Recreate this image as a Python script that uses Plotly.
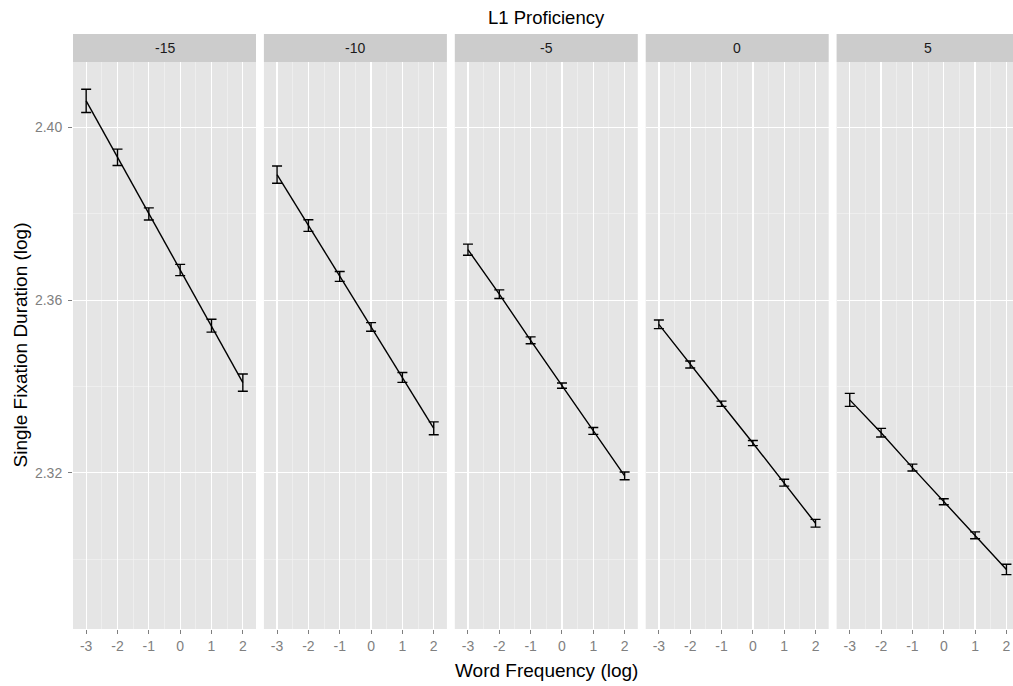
import plotly.graph_objects as go

# ---- data ----
freq = [-3, -2, -1, 0, 1, 2]
freq_ticks = [-3, -2, -1, 0, 1, 2]
freq_tick_labels = ["-3", "-2", "-1", "0", "1", "2"]
prof_levels = ["-15", "-10", "-5", "0", "5"]

sfd_m15 = [2.4062, 2.3931, 2.3800, 2.3670, 2.3541, 2.3409]
err_m15 = [0.0027, 0.0019, 0.0014, 0.0013, 0.0015, 0.0020]
sfd_m10 = [2.3891, 2.3773, 2.3655, 2.3538, 2.3421, 2.3303]
err_m10 = [0.0020, 0.00135, 0.00115, 0.0010, 0.00115, 0.0015]
sfd_m5 = [2.3717, 2.3614, 2.3507, 2.3402, 2.3297, 2.3193]
err_m5 = [0.0013, 0.0010, 0.0008, 0.0006, 0.0008, 0.0009]
sfd_0 = [2.3544, 2.3451, 2.3360, 2.3269, 2.3177, 2.3083]
err_0 = [0.0010, 0.0008, 0.0006, 0.0006, 0.0008, 0.0009]
sfd_5 = [2.3369, 2.3293, 2.3212, 2.3133, 2.3055, 2.2976]
err_5 = [0.0015, 0.0010, 0.0008, 0.0007, 0.0008, 0.0012]

y_ticks = [2.32, 2.36, 2.40]
y_tick_labels = ["2.32", "2.36", "2.40"]
y_minor = [2.30, 2.34, 2.38]
x_minor = [-2.5, -1.5, -0.5, 0.5, 1.5]

series = [sfd_m15, sfd_m10, sfd_m5, sfd_0, sfd_5]
errors = [err_m15, err_m10, err_m5, err_0, err_5]

# ---- layout geometry (body margin removed by post_script) ----
W, H = 1013, 686
ML, MR, MT, MB = 73, 0, 34, 57
PW = W - ML - MR          # 940
PH = H - MT - MB          # 595
STRIP = 28
panel_w = 183.0
panel_step = 190.9
px_per_unit = panel_w / 5.84
x_lo = -3.42
y_range = [2.2838, 2.4152]
y_top = (PH - STRIP) / PH

FONT = "Liberation Sans, Arial, sans-serif"
GREY_TXT = "#7F7F7F"

fig = go.Figure()
layout = dict(
    width=W, height=H, autosize=False,
    margin=dict(l=ML, r=MR, t=MT, b=MB, pad=0),
    paper_bgcolor="white", plot_bgcolor="#E5E5E5",
    showlegend=False,
    font=dict(family=FONT, color="#000000"),
    shapes=[], annotations=[],
)

for i, (lvl, ys, es) in enumerate(zip(prof_levels, series, errors)):
    sfx = "" if i == 0 else str(i + 1)
    x0 = i * panel_step
    x1 = min(x0 + panel_w, PW)
    x_hi = x_lo + (x1 - x0) / px_per_unit
    fig.add_trace(go.Scatter(
        x=freq, y=ys, mode="lines",
        line=dict(color="#000000", width=1.4),
        error_y=dict(type="data", array=es, visible=True,
                     color="#000000", thickness=1.4, width=5),
        xaxis="x" + sfx, yaxis="y" + sfx, hoverinfo="skip",
        cliponaxis=False,
    ))
    layout["xaxis" + sfx] = dict(
        domain=[x0 / PW, x1 / PW], range=[x_lo, x_hi], anchor="y" + sfx,
        tickmode="array", tickvals=freq_ticks, ticktext=freq_tick_labels,
        ticks="outside", ticklen=4, tickwidth=1, tickcolor=GREY_TXT,
        tickfont=dict(size=14, color=GREY_TXT, family=FONT),
        showgrid=True, gridcolor="#FFFFFF", gridwidth=1.3,
        zeroline=False, showline=False, fixedrange=True,
        minor=dict(tickvals=x_minor, showgrid=True, gridcolor="#F2F2F2",
                   gridwidth=0.7, ticks=""),
    )
    layout["yaxis" + sfx] = dict(
        domain=[0, y_top], range=y_range, anchor="x" + sfx,
        tickmode="array", tickvals=y_ticks, ticktext=y_tick_labels,
        ticks="outside" if i == 0 else "", ticklen=4, tickwidth=1,
        tickcolor=GREY_TXT, showticklabels=(i == 0),
        ticklabelstandoff=3,
        tickfont=dict(size=14, color=GREY_TXT, family=FONT),
        showgrid=True, gridcolor="#FFFFFF", gridwidth=1.3,
        zeroline=False, showline=False, fixedrange=True,
        minor=dict(tickvals=y_minor, showgrid=True, gridcolor="#F2F2F2",
                   gridwidth=0.7, ticks=""),
    )
    # facet strip
    sx0 = x0 / PW
    sx1 = (x0 + panel_w) / PW
    layout["shapes"].append(dict(
        type="rect", xref="paper", yref="paper",
        x0=sx0, x1=sx1, y0=y_top, y1=1.0,
        fillcolor="#CCCCCC", line=dict(width=0), layer="below",
    ))
    layout["annotations"].append(dict(
        text=lvl, xref="paper", yref="paper",
        x=(sx0 + sx1) / 2, y=(y_top + 1) / 2,
        xanchor="center", yanchor="middle", showarrow=False,
        font=dict(size=14, color="#1A1A1A", family=FONT),
    ))

center_x = (panel_step * 4 + panel_w) / 2 / PW
layout["annotations"].extend([
    dict(text="L1 Proficiency", xref="paper", yref="paper",
         x=center_x, y=1 + 17 / PH, xanchor="center", yanchor="middle",
         showarrow=False, font=dict(size=18.5, color="#000000", family=FONT)),
    dict(text="Word Frequency (log)", xref="paper", yref="paper",
         x=center_x, y=-41 / PH, xanchor="center", yanchor="middle",
         showarrow=False, font=dict(size=19, color="#000000", family=FONT)),
    dict(text="Single Fixation Duration (log)", xref="paper", yref="paper",
         x=-53 / PW, y=(y_top) / 2, xanchor="center", yanchor="middle",
         textangle=-90,
         showarrow=False, font=dict(size=19, color="#000000", family=FONT)),
])

fig.update_layout(**layout)
fig.write_html(
    "out.html",
    config={"displayModeBar": False, "staticPlot": True},
    post_script="document.body.style.margin='0';document.body.style.overflow='hidden';",
)
